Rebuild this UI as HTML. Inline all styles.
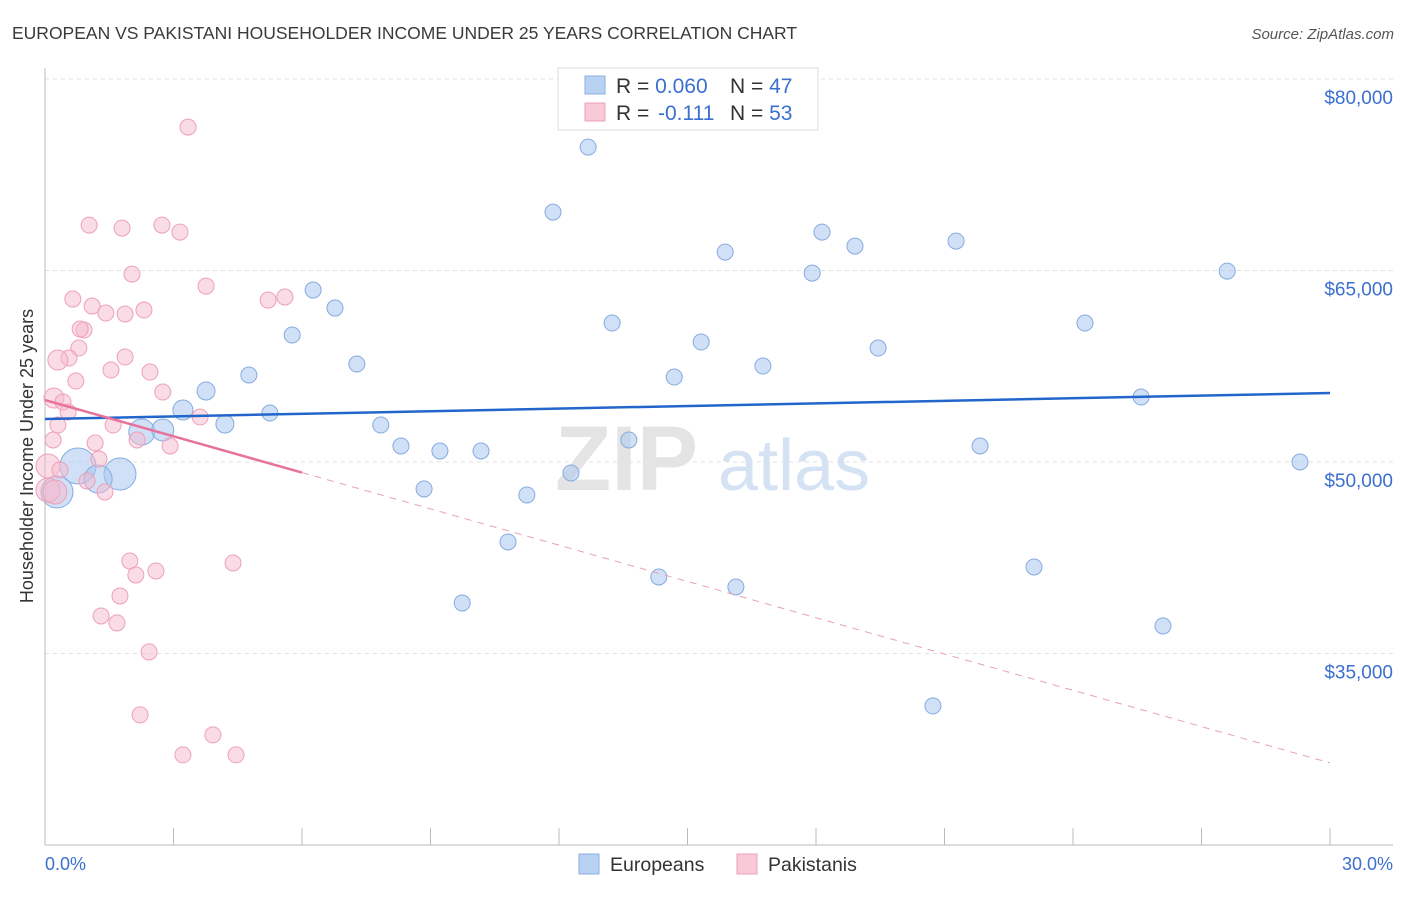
<!DOCTYPE html>
<html><head><meta charset="utf-8"><style>
body{margin:0;background:#fff;font-family:"Liberation Sans",sans-serif;}
svg text{font-family:"Liberation Sans",sans-serif;}
</style></head><body>
<svg id="chart" width="1406" height="892" xmlns="http://www.w3.org/2000/svg">
<text x="12" y="39" font-size="17.5" fill="#3a3a3a">EUROPEAN VS PAKISTANI HOUSEHOLDER INCOME UNDER 25 YEARS CORRELATION CHART</text>
<text x="1394" y="39" font-size="15" fill="#555" text-anchor="end" font-style="italic">Source: ZipAtlas.com</text>
<g id="grid"></g>
<g><text x="555" y="490" font-size="92" fill="#e4e4e4" font-family="Liberation Serif" font-weight="bold">ZIP</text><text x="718" y="490" font-size="72" fill="#d4e2f4">atlas</text></g>
<g id="axes"></g>
<g id="marks"></g>
<text transform="translate(33,456) rotate(-90)" font-size="18" fill="#333" text-anchor="middle">Householder Income Under 25 years</text>
<text x="45" y="870" font-size="18" fill="#3b6fd0">0.0%</text>
<text x="1393" y="870" font-size="18" fill="#3b6fd0" text-anchor="end">30.0%</text>
<g>
<rect x="558" y="68" width="260" height="62" fill="#fff" stroke="#ddd"/>
<rect x="585" y="76" width="20" height="18" fill="#b9d1f2" stroke="#8ab0e0"/>
<rect x="585" y="103" width="20" height="18" fill="#f9c9d8" stroke="#eea0b8"/>
<text x="616" y="93" font-size="21" fill="#333">R = <tspan fill="#3b6fd0">0.060</tspan><tspan x="730">N = </tspan><tspan fill="#3b6fd0">47</tspan></text>
<text x="616" y="120" font-size="21" fill="#333">R = <tspan fill="#3b6fd0" x="658">-0.111</tspan><tspan x="730">N = </tspan><tspan fill="#3b6fd0">53</tspan></text>
</g>
<g>
<rect x="579" y="854" width="20" height="20" fill="#b9d1f2" stroke="#8ab0e0"/>
<text x="610" y="871" font-size="19.5" fill="#333">Europeans</text>
<rect x="737" y="854" width="20" height="20" fill="#f9c9d8" stroke="#eea0b8"/>
<text x="768" y="871" font-size="19.5" fill="#333">Pakistanis</text>
</g>
</svg>
<script>
const yTicks=[35000,50000,65000,80000];
const yTickLabels=["$35,000","$50,000","$65,000","$80,000"];
const eurX=[12.68,11.86,18.14,18.91,21.27,15.88,17.91,27.60,6.26,6.77,5.77,13.24,24.28,15.32,19.45,7.28,16.76,4.76,14.69,3.76,25.59,3.22,5.25,4.20,7.84,2.26,2.75,13.63,8.31,9.22,10.18,21.83,12.28,29.30,0.77,1.75,1.24,8.85,11.25,0.28,10.81,14.33,16.13,23.09,9.74,26.10,20.73];
const eurY=[74665,69575,68009,66913,67304,66443,64799,64955,63468,62058,59944,60884,60884,59396,58926,57673,57517,56812,56656,55559,55090,54072,53837,52975,52897,52349,52506,51723,51253,50861,50861,51253,49139,50000,49687,49060,48669,47886,47416,47651,43736,40995,40212,41778,38960,37159,30895];
const eurR=[8,8,8,8,8,8,8,8,8,8,8,8,8,8,8,8,8,8,8,9,8,10,8,9,8,13,11,8,8,8,8,8,8,8,18,16,14,8,8,16,8,8,8,8,8,8,8];
const pakX=[3.34,1.03,1.80,2.73,3.15,2.03,3.76,0.65,5.21,5.60,1.10,2.31,1.42,1.87,0.91,0.82,0.79,0.56,0.30,1.87,0.72,1.54,2.45,2.75,0.21,0.42,0.54,0.30,3.62,1.59,2.15,2.92,1.17,1.26,0.07,0.35,0.98,1.40,0.07,1.98,2.59,4.39,2.12,1.75,1.31,1.68,2.43,2.22,3.92,3.22,4.46,0.23,0.19];
const pakY=[76231,68557,68322,68557,68009,64720,63781,62763,62685,62920,62215,61902,61667,61588,60336,60414,58926,58143,57987,58222,56342,57204,57047,55481,55011,54698,53915,52897,53524,52897,51723,51253,51488,50235,49687,49374,48512,47651,47808,42248,41465,42092,41152,39508,37942,37394,35123,30190,28624,27058,27058,47651,51723];
const pakR=[8,8,8,8,8,8,8,8,8,8,8,8,8,8,8,8,8,8,10,8,8,8,8,8,10,8,8,8,8,8,8,8,8,8,12,8,8,8,12,8,8,8,8,8,8,8,8,8,8,8,8,12,8];
const eurTrend=[53367,55403];
const pakTrend=[54855,26432];
const pakSolidEnd=6;
const NS="http://www.w3.org/2000/svg";
function xs(p){return 45+p/30*1285;}
function ys(v){return 462-(v-50000)/15000*191.5;}
function mk(t,a,parent){const e=document.createElementNS(NS,t);for(const k in a)e.setAttribute(k,a[k]);document.getElementById(parent).appendChild(e);return e;}
yTicks.forEach((v,i)=>{
 const l=mk('line',{x1:45,x2:1393,y1:ys(v),y2:ys(v),stroke:'#e2e2e2','stroke-dasharray':'4,4'},'grid');
 
 
 const t=mk('text',{x:1393,y:ys(v)+25,'font-size':19,fill:'#3b6fd0','text-anchor':'end'},'grid');
 t.textContent=yTickLabels[i];
 
 
});
const ax=mk('line',{x1:45,x2:45,y1:68,y2:845,stroke:'#bbb'},'axes');


const bx=mk('line',{x1:45,x2:1393,y1:845,y2:845,stroke:'#bbb'},'axes');


for(let i=1;i<=10;i++){
 const t=mk('line',{x1:xs(i*3),x2:xs(i*3),y1:828,y2:845,stroke:'#bbb'},'axes');
 
 
}
eurX.forEach((x,i)=>{
 const c=mk('circle',{cx:xs(x),cy:ys(eurY[i]),r:eurR[i],fill:'rgba(170,198,238,0.55)',stroke:'#86abe0','stroke-width':1},'marks');
 
 
});
pakX.forEach((x,i)=>{
 const c=mk('circle',{cx:xs(x),cy:ys(pakY[i]),r:pakR[i],fill:'rgba(246,185,205,0.5)',stroke:'#eea0b8','stroke-width':1},'marks');
 
 
});
const bl=mk('line',{x1:xs(0),y1:ys(eurTrend[0]),x2:xs(30),y2:ys(eurTrend[1]),stroke:'#2266cc','stroke-width':2.5},'marks');


const pm=pakTrend[0]+(pakTrend[1]-pakTrend[0])*pakSolidEnd/30;
const ps=mk('line',{x1:xs(0),y1:ys(pakTrend[0]),x2:xs(pakSolidEnd),y2:ys(pm),stroke:'#e8739a','stroke-width':2.5},'marks');


const pd=mk('line',{x1:xs(pakSolidEnd),y1:ys(pm),x2:xs(30),y2:ys(pakTrend[1]),stroke:'#e8a0b8','stroke-width':1,'stroke-dasharray':'7,6'},'marks');


</script>
</body></html>
